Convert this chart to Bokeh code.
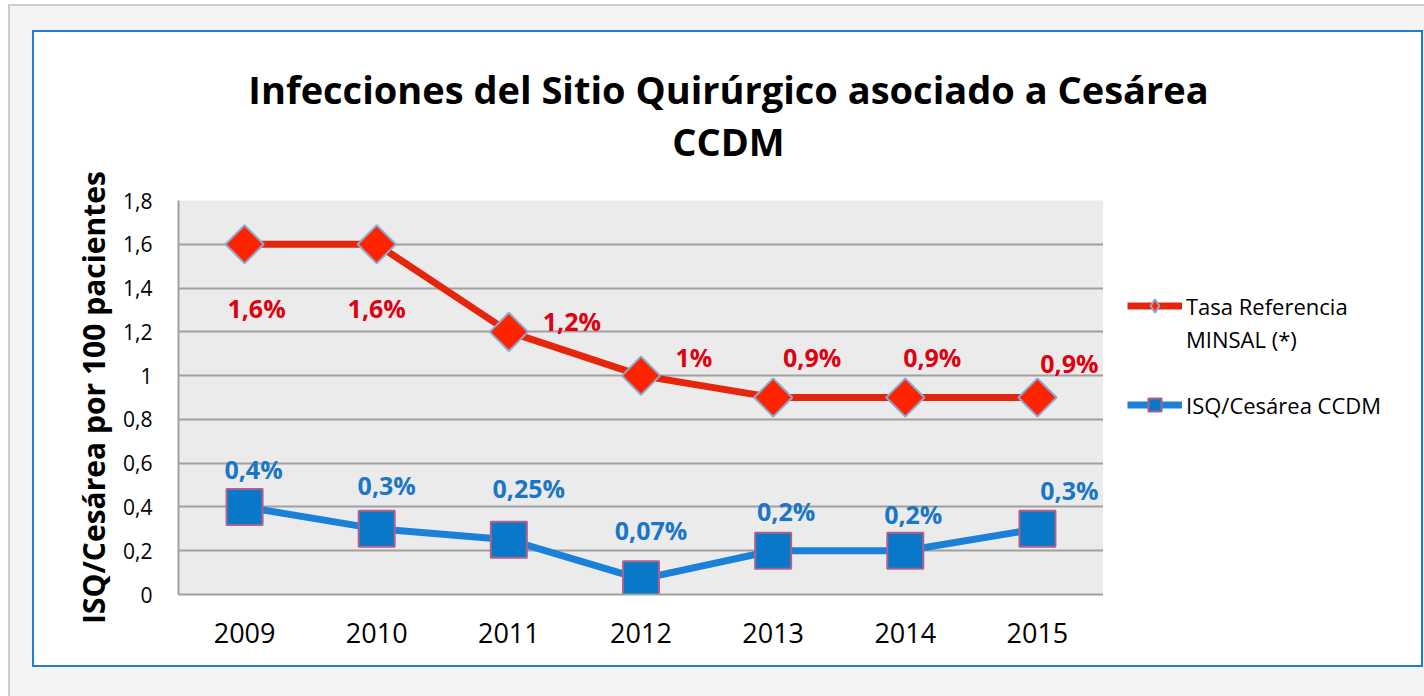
import math
from bokeh.plotting import figure
from bokeh.models import ColumnDataSource, FixedTicker, LabelSet, Label, Legend, LegendItem, Range1d
from bokeh.layouts import column, row
from bokeh.embed import file_html
from bokeh.resources import INLINE
from bokeh.core.properties import value

FONT = "Open Sans"

# ---- data ----
title_line1 = "Infecciones del Sitio Quirúrgico asociado a Cesárea"
title_line2 = "CCDM"
years = ["2009", "2010", "2011", "2012", "2013", "2014", "2015"]
minsal = [1.6, 1.6, 1.2, 1.0, 0.9, 0.9, 0.9]
ccdm = [0.4, 0.3, 0.25, 0.07, 0.2, 0.2, 0.3]
minsal_labels = ["1,6%", "1,6%", "1,2%", "1%", "0,9%", "0,9%", "0,9%"]
ccdm_labels = ["0,4%", "0,3%", "0,25%", "0,07%", "0,2%", "0,2%", "0,3%"]
y_ticks = [0, 0.2, 0.4, 0.6, 0.8, 1, 1.2, 1.4, 1.6, 1.8]
y_tick_labels = ["0", "0,2", "0,4", "0,6", "0,8", "1", "1,2", "1,4", "1,6", "1,8"]
series_names = ["Tasa Referencia", "MINSAL (*)", "ISQ/Cesárea CCDM"]

# label placement (screen px offsets from each point)
minsal_dx = [12, 0, 63, 53, 39, 27, 32]
minsal_dy = [-64, -64, 11, 19, 41, 41, 35]
ccdm_dx = [9, 10, 20, 10, 13, 8, 32]
ccdm_dy = [38, 44, 52, 49, 40, 37, 39]

RED_LINE = "#e6260c"
RED_FILL = "#ff2400"
RED_EDGE = "#8ea8d0"
RED_TEXT = "#e00010"
BLUE_LINE = "#1a80d8"
BLUE_FILL = "#0a78c8"
BLUE_EDGE = "#b0608c"
BLUE_TEXT = "#1a76c6"

BOX_W, BOX_H = 1387, 633
TITLE_H = 138
MAIN_W = 1069
LEG_W = BOX_W - MAIN_W
BODY_H = BOX_H - TITLE_H

src = ColumnDataSource(dict(
    year=years, minsal=minsal, ccdm=ccdm,
    minsal_lbl=minsal_labels, ccdm_lbl=ccdm_labels,
    mdx=minsal_dx, mdy=minsal_dy, cdx=ccdm_dx, cdy=ccdm_dy,
))


def add_series(fig, red_marker="square", red_angle=math.pi / 4, red_size=27):
    rl = fig.line("year", "minsal", source=src, line_color=RED_LINE, line_width=7)
    rm = fig.scatter("year", "minsal", source=src, marker=red_marker, angle=red_angle, size=red_size,
                     fill_color=RED_FILL, line_color=RED_EDGE, line_width=2)
    bl = fig.line("year", "ccdm", source=src, line_color=BLUE_LINE, line_width=7)
    bm = fig.scatter("year", "ccdm", source=src, marker="square", size=36,
                     fill_color=BLUE_FILL, line_color=BLUE_EDGE, line_width=2)
    return rl, rm, bl, bm


def bare(width, height, **kw):
    f = figure(width=width, height=height, x_axis_type=None, y_axis_type=None,
               min_border_left=0, min_border_right=0, min_border_top=0, min_border_bottom=0,
               output_backend="svg", toolbar_location=None, **kw)
    f.title.visible = False
    f.grid.visible = False
    f.outline_line_color = None
    f.background_fill_color = "white"
    f.border_fill_color = "white"
    return f


# ---------- title panel ----------
tfig = bare(BOX_W, TITLE_H, x_range=Range1d(0, 1), y_range=Range1d(0, 1))
for txt, y in ((title_line1, 82), (title_line2, 30)):
    tfig.add_layout(Label(x=694, y=y, x_units="screen", y_units="screen", text=txt,
                          text_align="center", text_baseline="middle", text_font=FONT,
                          text_font_size="38px", text_font_style="bold", text_color="black"))

# ---------- main chart ----------
p = figure(
    x_range=years, y_range=Range1d(0, 1.8),
    width=MAIN_W, height=BODY_H,
    min_border_left=144, min_border_right=0, min_border_top=30, min_border_bottom=71,
    output_backend="svg", toolbar_location=None,
)
p.title.visible = False
p.background_fill_color = "#ebebeb"
p.border_fill_color = "white"
p.outline_line_color = None

for ax in (p.xaxis[0], p.yaxis[0]):
    ax.axis_line_color = "#a0a0a0"
    ax.axis_line_width = 2
    ax.major_tick_line_color = None
    ax.minor_tick_line_color = None
    ax.major_label_text_font = FONT
    ax.major_label_text_color = "black"

p.xaxis.major_label_text_font_size = "27px"
p.xaxis.major_label_standoff = 22
p.yaxis.ticker = FixedTicker(ticks=y_ticks)
p.yaxis.major_label_overrides = dict(zip(y_ticks, y_tick_labels))
p.yaxis.major_label_text_font_size = "21px"
p.yaxis.major_label_standoff = 20
p.yaxis.axis_label = "ISQ/Cesárea por 100 pacientes"
p.yaxis.axis_label_text_font = FONT
p.yaxis.axis_label_text_font_size = "30px"
p.yaxis.axis_label_text_font_style = "bold"
p.yaxis.axis_label_text_color = "black"
p.yaxis.axis_label_standoff = 6

p.xgrid.visible = False
p.ygrid.grid_line_color = "#a0a0a0"
p.ygrid.grid_line_width = 2

add_series(p)

p.add_layout(LabelSet(x="year", y="minsal", text="minsal_lbl", source=src,
                      x_offset="mdx", y_offset="mdy", text_align="center", text_baseline="middle",
                      text_font=value(FONT), text_font_size="25px", text_font_style="bold",
                      text_color=RED_TEXT))
p.add_layout(LabelSet(x="year", y="ccdm", text="ccdm_lbl", source=src,
                      x_offset="cdx", y_offset="cdy", text_align="center", text_baseline="middle",
                      text_font=value(FONT), text_font_size="25px", text_font_style="bold",
                      text_color=BLUE_TEXT))

# ---------- legend panel (same series, kept out of view; only the legend shows) ----------
lfig = bare(LEG_W, BODY_H, x_range=years, y_range=Range1d(10, 11))
rl, rm, bl, bm = add_series(lfig, red_marker="diamond", red_angle=0, red_size=27)
legend = Legend(items=[
    LegendItem(label=series_names[0], renderers=[rl, rm]),
    LegendItem(label=series_names[1], renderers=[]),
    LegendItem(label=" ", renderers=[]),
    LegendItem(label=series_names[2], renderers=[bl, bm]),
], location=(24, 173), orientation="vertical", glyph_width=55, glyph_height=33,
    label_height=33, spacing=0, padding=0, margin=0, label_standoff=4,
    label_text_font=FONT, label_text_font_size="22px", label_text_color="black",
    label_text_baseline="middle", background_fill_alpha=0, border_line_color=None,
    inactive_fill_alpha=0)
lfig.add_layout(legend, "center")

chart = column(tfig, row(p, lfig, spacing=0), spacing=0, margin=(32, 0, 0, 34))

bg = ("linear-gradient(white,white) 34px 32px / 1387px 633px no-repeat, "
      "linear-gradient(#1a7fd8,#1a7fd8) 32px 30px / 1391px 637px no-repeat, "
      "linear-gradient(#f4f4f4,#f4f4f4) 10px 6px / 100% 100% no-repeat, "
      "linear-gradient(#cdcdcd,#cdcdcd) 8px 4px / 100% 100% no-repeat, white")
page = column(chart, width=1424, height=696, styles={"background": bg})

open("out.html", "w").write(file_html(page, INLINE))
